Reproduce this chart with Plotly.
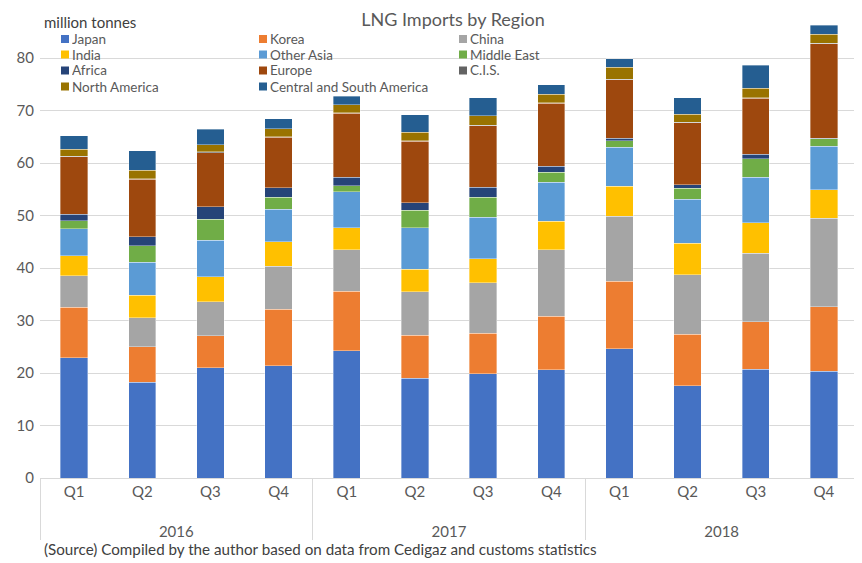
import plotly.graph_objects as go

years = ["2016"] * 4 + ["2017"] * 4 + ["2018"] * 4
quarters = ["Q1", "Q2", "Q3", "Q4"] * 3

japan = [22.9, 18.2, 21.0, 21.4, 24.2, 19.0, 19.9, 20.6, 24.6, 17.6, 20.7, 20.3]
korea = [9.6, 6.8, 6.1, 10.7, 11.4, 8.2, 7.7, 10.2, 12.9, 9.8, 9.1, 12.3]
china = [6.0, 5.5, 6.5, 8.2, 7.9, 8.3, 9.6, 12.7, 12.4, 11.3, 13.0, 16.9]
india = [3.8, 4.3, 4.7, 4.7, 4.2, 4.3, 4.6, 5.4, 5.7, 6.0, 5.8, 5.4]
other_asia = [5.2, 6.3, 7.0, 6.2, 6.8, 7.9, 7.9, 7.4, 7.4, 8.4, 8.7, 8.3]
middle_east = [1.5, 3.1, 4.0, 2.3, 1.2, 3.3, 3.8, 1.9, 1.2, 2.1, 3.5, 1.4]
africa = [1.2, 1.8, 2.4, 1.8, 1.6, 1.4, 1.9, 1.2, 0.5, 0.7, 0.9, 0.1]
cis = [0.1, 0.1, 0.1, 0.1, 0.1, 0.1, 0.1, 0.1, 0.1, 0.1, 0.1, 0.1]
europe = [11.0, 10.9, 10.3, 9.6, 12.2, 11.7, 11.7, 12.0, 11.2, 11.8, 10.6, 18.0]
north_america = [1.3, 1.6, 1.4, 1.5, 1.5, 1.7, 1.8, 1.6, 2.2, 1.5, 1.8, 1.7]
central_south_america = [2.6, 3.7, 2.9, 1.9, 1.6, 3.3, 3.4, 1.8, 1.7, 3.1, 4.4, 1.7]

series = [
    ("Japan", japan, "#4472C4"),
    ("Korea", korea, "#ED7D31"),
    ("China", china, "#A5A5A5"),
    ("India", india, "#FFC000"),
    ("Other Asia", other_asia, "#5B9BD5"),
    ("Middle East", middle_east, "#70AD47"),
    ("Africa", africa, "#264478"),
    ("Europe", europe, "#9E480E"),
    ("C.I.S.", cis, "#636363"),
    ("North America", north_america, "#997300"),
    ("Central and South America", central_south_america, "#255E91"),
]

FONT = "Lato"
TXT = "#595959"
# the page body adds an 8px offset; figure coords = screen coords - 8
OFF = 8
FW, FH = 862, 563
L, R, T, B = 40 - OFF, FW - (858 - OFF), 16 - OFF, FH - (478 - OFF)
PW = FW - L - R
PH = FH - T - B


def px(x):
    return (x - OFF - L) / PW


def py(y):
    return (FH - B - (y - OFF)) / PH


q_labels = [q + "<br>\u00a0" for q in quarters]

fig = go.Figure()
for name, vals, color in series:
    fig.add_trace(go.Bar(
        x=[years, q_labels], y=vals, name=name, showlegend=False,
        marker=dict(color=color, line=dict(color="rgba(255,255,255,0.6)", width=0.6)),
    ))

annotations = [
    dict(text="million tonnes", x=px(42), y=py(22), xanchor="left", yanchor="middle",
         font=dict(family=FONT, size=15, color="#404040")),
    dict(text="(Source) Compiled by the author based on data from Cedigaz and customs statistics",
         x=px(42), y=py(549), xanchor="left", yanchor="middle",
         font=dict(family=FONT, size=15.2, color="#404040")),
]
shapes = []
col_x = [61, 259, 459]
row_y = [39, 54.5, 70.5, 86.5]
for i, (name, vals, color) in enumerate(series):
    cx = col_x[i % 3]
    cy = row_y[i // 3]
    shapes.append(dict(type="rect", xref="paper", yref="paper",
                       x0=px(cx), x1=px(cx + 8), y0=py(cy - 4), y1=py(cy + 4),
                       fillcolor=color, line=dict(width=0), layer="above"))
    annotations.append(dict(text=name, x=px(cx + 10), y=py(cy), xanchor="left", yanchor="middle",
                            height=14, borderpad=0,
                            font=dict(family=FONT, size=13.5, color=TXT)))
for a in annotations:
    a.update(xref="paper", yref="paper", showarrow=False)

fig.update_layout(
    barmode="stack",
    bargap=0.6,
    width=FW, height=FH,
    margin=dict(l=L, r=R, t=T, b=B, autoexpand=False),
    paper_bgcolor="white", plot_bgcolor="white",
    font=dict(family=FONT, size=13, color=TXT),
    title=dict(text="LNG Imports by Region", x=(453 - OFF) / FW, xanchor="center",
               y=1 - (20 - OFF) / FH, yanchor="middle",
               font=dict(family=FONT, size=18, color=TXT)),
    showlegend=False,
    xaxis=dict(type="multicategory", showline=True, linecolor="#d9d9d9", showgrid=False,
               dividercolor="#d9d9d9", dividerwidth=1, showdividers=True,
               tickfont=dict(family=FONT, size=15, color=TXT)),
    yaxis=dict(range=[0, 88], tickvals=[0, 10, 20, 30, 40, 50, 60, 70, 80],
               showgrid=True, gridcolor="#d9d9d9", gridwidth=1, zeroline=False,
               tickfont=dict(family=FONT, size=15, color=TXT), ticks="", ticklabelstandoff=5),
    annotations=annotations,
    shapes=shapes,
)

fig.write_html("out.html")
